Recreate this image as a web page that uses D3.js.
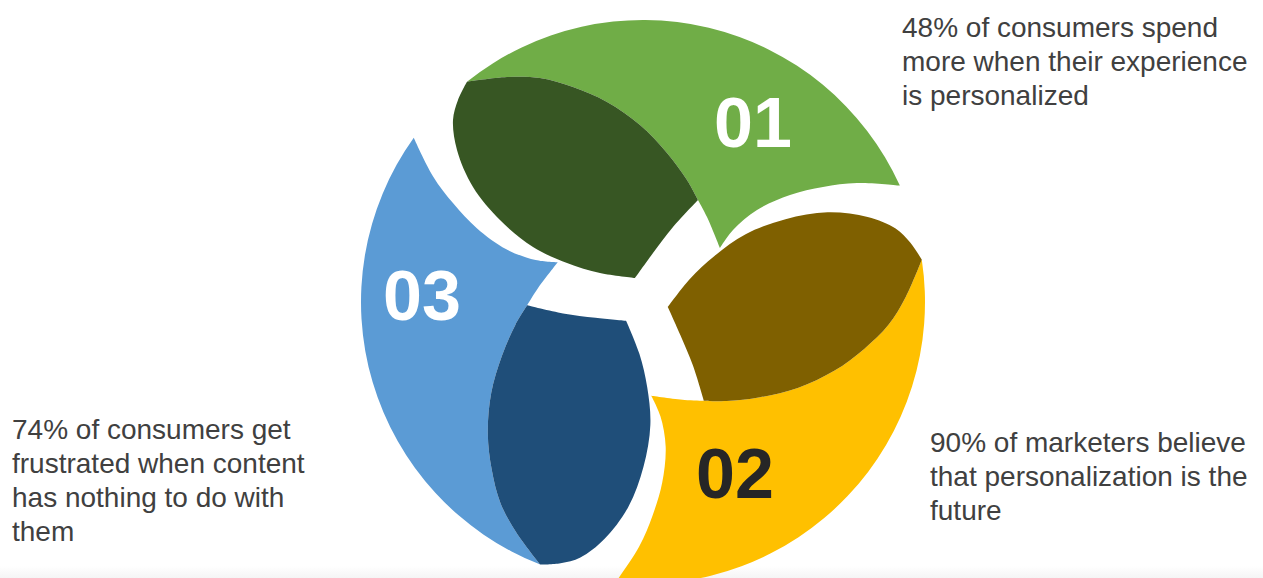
<!DOCTYPE html>
<html>
<head>
<meta charset="utf-8">
<script src="https://cdn.jsdelivr.net/npm/d3@7"></script>
<style>
  html, body { margin: 0; padding: 0; background: #ffffff; }
  svg { display: block; }
</style>
</head>
<body>
<svg id="chart" width="1263" height="578"></svg>
<script>
// ---- data ----
const stepIds = ["01", "02", "03"];
const stepStats = ["48%", "90%", "74%"];
const stepCaptions = [
  ["48% of consumers spend", "more when their experience", "is personalized"],
  ["90% of marketers believe", "that personalization is the", "future"],
  ["74% of consumers get", "frustrated when content", "has nothing to do with", "them"]
];
const lightColors = ["#70AD47", "#FFC000", "#5B9BD5"];
const darkColors  = ["#375623", "#7F6000", "#1F4E79"];
const numberColors = ["#ffffff", "#262626", "#ffffff"];

// ---- layout ----
const W = 1263, H = 578;
const cx = 643, cy = 302, R = 282;
const labelAnchors = [[753, 147], [735, 498], [422, 320]];
const captionAnchors = [[902, 37], [930, 452], [12, 439]];
const lineH = 34;

const svg = d3.select("#chart");

// very faint floor shading at the bottom edge
const defs = svg.append("defs");
const grad = defs.append("linearGradient").attr("id", "floor")
  .attr("x1", 0).attr("y1", 0).attr("x2", 0).attr("y2", 1);
grad.append("stop").attr("offset", "0%").attr("stop-color", "#ffffff");
grad.append("stop").attr("offset", "100%").attr("stop-color", "#f5f5f5");
svg.append("rect").attr("x", 0).attr("y", 566).attr("width", W).attr("height", 12)
  .attr("fill", "url(#floor)");

// rotation of each petal (3-fold symmetry)
const rot = d3.scaleLinear().domain([0, stepIds.length]).range([0, 360]);
const colorLight = d3.scaleOrdinal().domain(stepIds).range(lightColors);
const colorDark = d3.scaleOrdinal().domain(stepIds).range(darkColors);

// petal template geometry (relative to centre)
const angA = Math.atan2(-219, -175);
const angB = Math.atan2(-116, 256);
const A = [R * Math.cos(angA), R * Math.sin(angA)];
const B = [R * Math.cos(angB), R * Math.sin(angB)];
const C = [77, -54], D = [55, -102], E = [-8, -24];
const innerEdge = [B, [214, -119], [180, -115], [147, -107], [114, -92], [90, -72], C];
const cToD = [C, [64, -85], D];
const seam = [D, [44, -122], [24, -149], [-3, -177], [-36, -200], [-70, -215], [-103, -224], [-136, -225], A];
const dToE = [D, [30, -75], [10, -49], E];
const lobeLeft = [E, [-43, -29], [-76, -39], [-110, -55], [-143, -82], [-170, -115], [-186, -152], [-190, -182], [-185, -202], A];

const curve = d3.line().curve(d3.curveCatmullRom.alpha(0.5));
const seg = pts => curve(pts).replace(/^M/, "L");

function lightPath() {
  const p = d3.path();
  p.moveTo(A[0], A[1]);
  p.arc(0, 0, R, angA, angB, false);
  return p.toString() + seg(innerEdge) + seg(cToD) + seg(seam) + "Z";
}
function darkPath() {
  return curve(seam.slice().reverse()) + seg(dToE) + seg(lobeLeft) + "Z";
}

const petals = svg.append("g").attr("class", "petals")
  .selectAll("g.petal")
  .data(stepIds)
  .join("g")
  .attr("class", "petal")
  .attr("transform", (d, i) => `translate(${cx},${cy}) rotate(${rot(i)})`);

petals.append("path").attr("d", lightPath()).attr("fill", d => colorLight(d));
petals.append("path").attr("d", darkPath()).attr("fill", d => colorDark(d));

// step numbers
svg.append("g").selectAll("text")
  .data(stepIds)
  .join("text")
  .attr("x", (d, i) => labelAnchors[i][0])
  .attr("y", (d, i) => labelAnchors[i][1])
  .attr("text-anchor", "middle")
  .attr("font-family", "'Liberation Sans', Arial, sans-serif")
  .attr("font-weight", "bold")
  .attr("font-size", 70)
  .attr("fill", (d, i) => numberColors[i])
  .text(d => d);

// captions
const caps = svg.append("g").selectAll("text")
  .data(stepCaptions)
  .join("text")
  .attr("font-family", "'Liberation Sans', Arial, sans-serif")
  .attr("font-size", 28)
  .attr("fill", "#404040");
caps.selectAll("tspan")
  .data((d, i) => d.map((line, j) => ({ line, j, i })))
  .join("tspan")
  .attr("x", d => captionAnchors[d.i][0])
  .attr("y", d => captionAnchors[d.i][1] + d.j * lineH)
  .text(d => d.line);
</script>
</body>
</html>
